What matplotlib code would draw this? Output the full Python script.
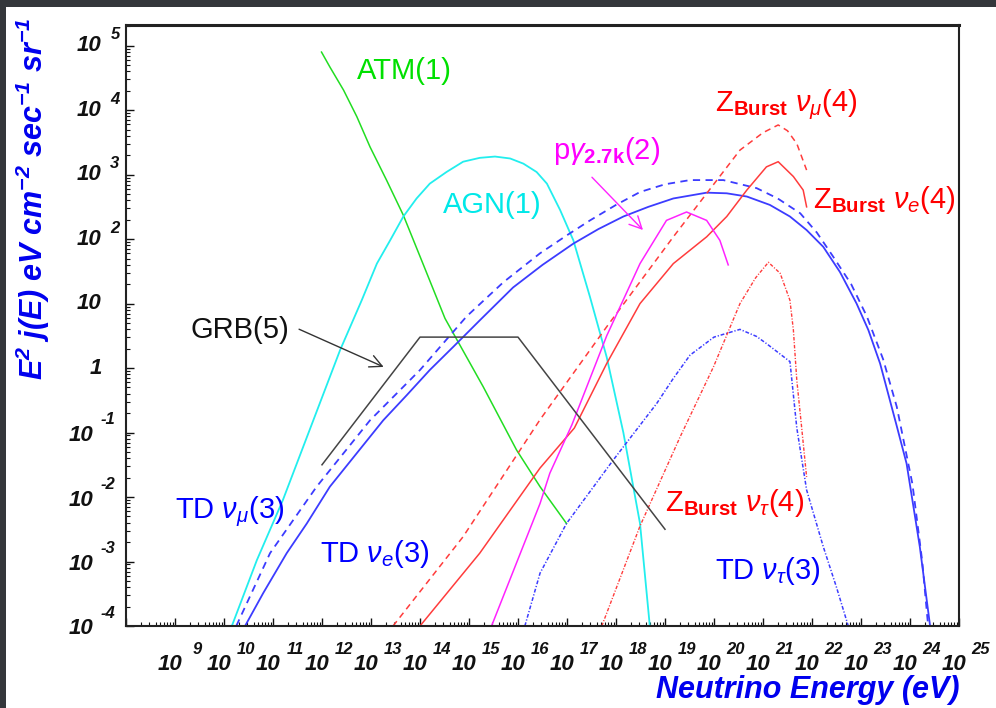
import matplotlib
matplotlib.use('Agg')
import matplotlib.pyplot as plt
import numpy as np
from matplotlib.patches import Rectangle
from matplotlib.ticker import LogLocator, NullFormatter

plt.rcParams['font.family'] = ['Liberation Sans', 'DejaVu Sans']
plt.rcParams['mathtext.fontset'] = 'custom'
plt.rcParams['mathtext.rm'] = 'Liberation Sans'
plt.rcParams['mathtext.it'] = 'Liberation Sans:italic'
plt.rcParams['mathtext.bf'] = 'Liberation Sans:bold'
plt.rcParams['mathtext.bfit'] = 'Liberation Sans:italic:bold'

# curves, as log10(E/eV) and log10(E^2 j(E))
atm_loge = [11.99, 12.16, 12.44, 12.71, 12.98, 13.32, 13.66, 14.07, 14.51, 15.29,
            15.97, 16.45, 16.99]
atm_logf = [4.90, 4.67, 4.31, 3.90, 3.43, 2.91, 2.37, 1.60, 0.77, -0.29,
            -1.27, -1.84, -2.41]

agn_loge = [10.16, 10.67, 11.2, 12.37, 12.81, 13.12, 13.39, 13.66, 13.93, 14.2,
            14.54, 14.88, 15.22, 15.53, 15.84, 16.11, 16.38, 16.59, 16.86, 17.13,
            17.47, 17.81, 18.15, 18.49, 18.69]
agn_logf = [-4.0, -2.98, -2.05, 0.28, 1.05, 1.62, 1.98, 2.35, 2.63, 2.86,
            3.04, 3.2, 3.26, 3.28, 3.25, 3.17, 3.04, 2.86, 2.45, 1.98,
            1.1, 0.17, -1.0, -2.41, -4.0]

td_mu_loge = [10.43, 10.8, 11.28, 11.69, 12.16, 12.71, 13.25, 13.73, 14.2, 14.68,
              15.22, 15.9, 16.5, 17.13, 17.64, 18.15, 18.66, 19.17, 19.85, 20.26,
              20.67, 21.14, 21.55, 21.89, 22.23, 22.57, 22.91, 23.15, 23.39, 23.73,
              23.93, 24.2, 24.41]
td_mu_logf = [-4.0, -3.49, -2.87, -2.41, -1.84, -1.32, -0.81, -0.42, -0.03, 0.33,
              0.74, 1.25, 1.6, 1.93, 2.155, 2.35, 2.5, 2.63, 2.72, 2.71,
              2.66, 2.53, 2.35, 2.14, 1.88, 1.49, 1.0, 0.59, 0.07, -0.9,
              -1.48, -2.77, -4.0]

td_e_loge = [10.25, 10.94, 11.89, 12.98, 14.0, 14.95, 15.7, 16.45, 17.0, 17.47,
             18.0, 18.49, 19.0, 19.51, 20.19, 20.87, 21.3, 21.76, 22.1, 22.43,
             22.8, 23.12, 23.45, 23.73, 24.05, 24.25, 24.37]
td_e_logf = [-4.0, -2.87, -1.84, -0.81, -0.03, 0.8, 1.33, 1.78, 2.06, 2.29,
             2.53, 2.73, 2.85, 2.915, 2.915, 2.79, 2.63, 2.4, 2.1, 1.73,
             1.3, 0.8, 0.14, -0.6, -1.8, -3.0, -4.0]

td_tau_loge = [16.14, 16.45, 16.99, 17.94, 18.83, 19.17, 19.51, 20.0, 20.53, 20.87,
               21.07, 21.55, 21.69, 21.89, 22.23, 22.5, 22.74]
td_tau_logf = [-4.0, -3.18, -2.41, -1.43, -0.55, -0.16, 0.2, 0.48, 0.6, 0.49,
               0.38, 0.1, -0.93, -1.89, -2.77, -3.4, -4.0]

zb_mu_loge = [13.45, 14.88, 16.45, 17.81, 19.17, 20.53, 21.0, 21.31, 21.5, 21.69, 21.89]
zb_mu_logf = [-4.0, -2.615, -0.8, 0.64, 2.035, 3.38, 3.65, 3.77, 3.68, 3.48, 3.07]

zb_e_loge = [14.0, 15.22, 16.45, 17.15, 17.81, 18.49, 19.17, 19.85, 20.26, 20.67,
             21.07, 21.31, 21.62, 21.82, 21.89]
zb_e_logf = [-4.0, -2.87, -1.55, -0.93, 0.07, 1.0, 1.62, 2.035, 2.35, 2.76,
             3.12, 3.2, 2.97, 2.76, 2.5]

zb_tau_loge = [17.71, 18.49, 19.31, 19.99, 20.53, 20.85, 21.11, 21.35, 21.55, 21.62,
               21.69, 21.79, 21.89]
zb_tau_logf = [-4.0, -2.45, -1.065, 0.02, 1.0, 1.4, 1.64, 1.47, 1.05, 0.59,
               -0.19, -0.93, -1.69]

pg_loge = [15.46, 16.45, 16.65, 17.1, 17.81, 18.49, 19.03, 19.44, 19.85, 20.12, 20.29]
pg_logf = [-4.0, -2.1, -1.63, -0.88, 0.5, 1.62, 2.29, 2.42, 2.29, 1.98, 1.6]

grb_loge = [12.0, 14.0, 16.0, 19.0]
grb_logf = [-1.5, 0.48, 0.48, -2.5]

x_decades = list(range(9, 26))
y_decades = list(range(5, -5, -1))

BLUE = '#3c3cff'
RED = '#ff3c3c'


def curve(ax, loge, logf, **kw):
    ax.plot(10.0 ** np.array(loge), 10.0 ** np.array(logf), solid_joinstyle='round', **kw)


fig = plt.figure(figsize=(9.96, 7.08), dpi=100, facecolor='#34373b')
fig.patches.append(Rectangle((6 / 996, 0), 1, 1 - 7 / 708, transform=fig.transFigure,
                             facecolor='white', edgecolor='none', zorder=-10))
ax = fig.add_axes([126 / 996, 1 - 626 / 708, 833 / 996, 601 / 708])
ax.set_zorder(1)
ax.set_xscale('log')
ax.set_yscale('log')
ax.set_xlim(1e8, 1e25)
ax.set_ylim(1e-4, 10 ** 5.32)

curve(ax, atm_loge, atm_logf, color='#22dd22', lw=1.1)
curve(ax, agn_loge, agn_logf, color='#22eeee', lw=1.3)
curve(ax, td_e_loge, td_e_logf, color=BLUE, lw=1.3, ls=(0, (4, 3)))
curve(ax, td_mu_loge, td_mu_logf, color=BLUE, lw=1.3)
curve(ax, td_tau_loge, td_tau_logf, color=BLUE, lw=1.1, ls=(0, (2.5, 1.2, 0.8, 1.2)))
curve(ax, zb_mu_loge, zb_mu_logf, color=RED, lw=1.1, ls=(0, (4, 3)))
curve(ax, zb_e_loge, zb_e_logf, color=RED, lw=1.1)
curve(ax, zb_tau_loge, zb_tau_logf, color=RED, lw=1.0, ls=(0, (2.5, 1.2, 0.8, 1.2)))
curve(ax, pg_loge, pg_logf, color='#ff22ff', lw=1.1)
curve(ax, grb_loge, grb_logf, color='#444444', lw=1.1)

ax.annotate('', xy=(10 ** 13.31, 10 ** 0.0), xytext=(10 ** 11.48, 10 ** 0.62),
            arrowprops=dict(arrowstyle='->', color='#333333', lw=1.0, mutation_scale=22))
ax.annotate('', xy=(10 ** 18.59, 10 ** 2.11), xytext=(10 ** 17.47, 10 ** 2.99),
            arrowprops=dict(arrowstyle='->', color='#ff22ff', lw=1.0, mutation_scale=22))

lab = dict(fontsize=21, ha='left', va='center')
ax.text(10 ** 12.71, 10 ** 4.60, 'ATM(1)', color='#00e000', **lab)
ax.text(10 ** 14.47, 10 ** 2.53, 'AGN(1)', color='#00e8e8', **lab)
ax.text(10 ** 16.71, 10 ** 3.36, r'p$\gamma_{\mathbf{2.7k}}$(2)', color='#ff00ff', **lab)
ax.text(10 ** 20.02, 10 ** 4.08, r'Z$_{\mathbf{Burst}}$ $\nu_{\mu}$(4)', color='#ff0000', **lab)
ax.text(10 ** 22.02, 10 ** 2.60, r'Z$_{\mathbf{Burst}}$ $\nu_{e}$(4)', color='#ff0000', **lab)
ax.text(10 ** 19.0, 10 ** -2.09, r'Z$_{\mathbf{Burst}}$ $\nu_{\tau}$(4)', color='#ff0000', **lab)
ax.text(10 ** 9.0, 10 ** -2.22, r'TD $\nu_{\mu}$(3)', color='#0000ff', **lab)
ax.text(10 ** 11.96, 10 ** -2.88, r'TD $\nu_{e}$(3)', color='#0000ff', **lab)
ax.text(10 ** 20.02, 10 ** -3.15, r'TD $\nu_{\tau}$(3)', color='#0000ff', **lab)
ax.text(10 ** 9.31, 10 ** 0.59, 'GRB(5)', color='#111111', **lab)

# ROOT-like frame and ticks
for side in ['left', 'right', 'top', 'bottom']:
    ax.spines[side].set_linewidth(1.5)
    ax.spines[side].set_color('#222222')
ax.spines['top'].set_linewidth(2.2)
ax.xaxis.set_major_locator(LogLocator(base=10, numticks=100))
ax.xaxis.set_minor_locator(LogLocator(base=10, subs=np.arange(2, 10), numticks=100))
ax.yaxis.set_major_locator(LogLocator(base=10, numticks=100))
ax.yaxis.set_minor_locator(LogLocator(base=10, subs=np.arange(2, 10), numticks=100))
ax.xaxis.set_major_formatter(NullFormatter())
ax.xaxis.set_minor_formatter(NullFormatter())
ax.yaxis.set_major_formatter(NullFormatter())
ax.yaxis.set_minor_formatter(NullFormatter())
ax.tick_params(which='both', direction='in', top=False, right=False, color='#111111')
ax.tick_params(which='major', length=6, width=1.0)
ax.tick_params(which='minor', length=3, width=0.8)

tl = dict(fontweight='bold', style='italic', color='#111111', ha='center', va='center',
          textcoords='offset pixels', annotation_clip=False)
for k in x_decades:
    ax.annotate('10', xy=(10.0 ** k, 0), xycoords=('data', 'axes fraction'),
                xytext=(-5, -39), fontsize=16, **tl)
    ax.annotate(str(k), xy=(10.0 ** k, 0), xycoords=('data', 'axes fraction'),
                xytext=(22, -23), fontsize=12, **tl)
for k in y_decades:
    yk = 10.0 ** k
    if k >= 2:
        ax.annotate('10', xy=(0, yk), xycoords=('axes fraction', 'data'),
                    xytext=(-37, 0), fontsize=16, **tl)
        ax.annotate(str(k), xy=(0, yk), xycoords=('axes fraction', 'data'),
                    xytext=(-11, 11), fontsize=12, **tl)
    elif k == 1:
        ax.annotate('10', xy=(0, yk), xycoords=('axes fraction', 'data'),
                    xytext=(-37, 0), fontsize=16, **tl)
    elif k == 0:
        ax.annotate('1', xy=(0, yk), xycoords=('axes fraction', 'data'),
                    xytext=(-30, 0), fontsize=16, **tl)
    else:
        ax.annotate('10', xy=(0, yk), xycoords=('axes fraction', 'data'),
                    xytext=(-45, -3), fontsize=16, **tl)
        ax.annotate(str(k), xy=(0, yk), xycoords=('axes fraction', 'data'),
                    xytext=(-18, 13), fontsize=12, **tl)

fig.text(959 / 996, 1 - 690 / 708, 'Neutrino Energy (eV)', color='#0000ee', fontsize=22,
         fontweight='bold', style='italic', ha='right', va='center')
fig.text(33 / 996, 1 - 199 / 708,
         r'E$^{\mathbfit{2}}$ j(E) eV cm$^{\mathbfit{-2}}$ sec$^{\mathbfit{-1}}$ sr$^{\mathbfit{-1}}$',
         color='#0000ee', fontsize=22, fontweight='bold', style='italic', rotation=90,
         ha='center', va='center')

fig.savefig('out.png', dpi=100, facecolor=fig.get_facecolor())
